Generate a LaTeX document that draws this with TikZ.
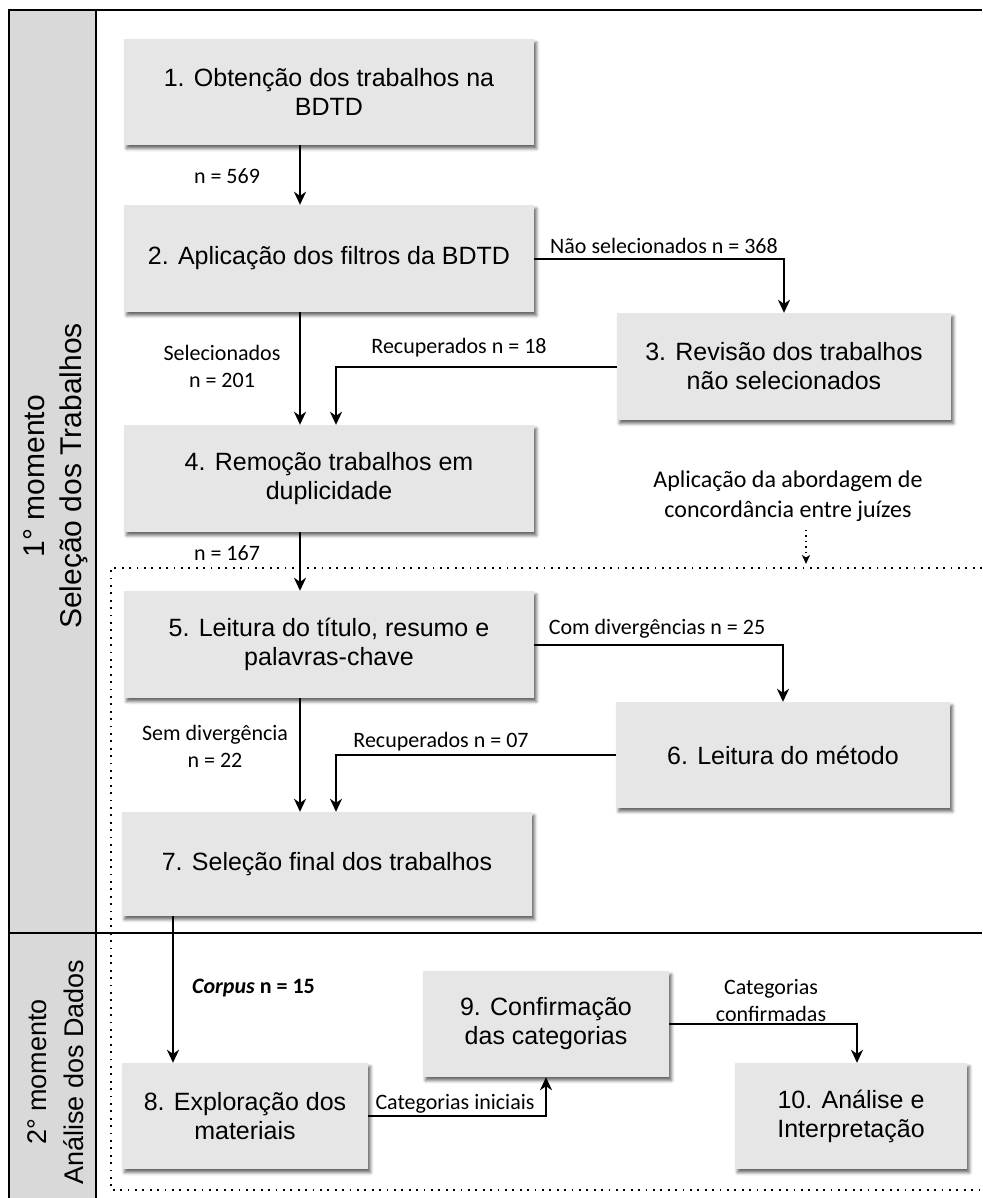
\documentclass[tikz,border=0pt]{standalone}
\usepackage{fontspec}
\setmainfont{Liberation Sans}
\newfontfamily\labfont{Carlito}
\usetikzlibrary{arrows.meta,shadows.blur,calc}
\definecolor{boxgray}{HTML}{E6E6E6}
\definecolor{sidegray}{HTML}{D9D9D9}
\begin{document}
\begin{tikzpicture}[x=1pt,y=-1pt,
  stepbox/.style={fill=boxgray, minimum height=106pt, inner sep=0pt, align=center,
    font=\fontsize{25}{29}\selectfont,
    blur shadow={shadow xshift=2.5pt, shadow yshift=-3.5pt, shadow blur radius=3pt, shadow opacity=60}},
  lab/.style={font=\labfont\fontsize{22}{27}\selectfont, align=center, inner sep=0pt},
  arr/.style={line width=2pt, -{Stealth[length=13pt,width=12pt,inset=4pt]}},
  frame/.style={line width=2pt},
  dots/.style={line width=1.8pt, dash pattern=on 1.8pt off 5.6pt},
  side/.style={rotate=90, align=center, inner sep=0pt},
]
\useasboundingbox (0,0) rectangle (982,1198);
% sidebar and frame
\fill[sidegray] (9,10) rectangle (96,1198);
\draw[frame] (982,10) -- (9,10) -- (9,1198);
\draw[frame] (96,10) -- (96,1198);
\draw[frame] (9,933) -- (982,933);
% dotted region
\draw[dots] (982,568) -- (111,568) -- (111,1190) -- (982,1190);
% sidebar texts
\node[side, font=\fontsize{30}{37}\selectfont] (s1) at (55.9,476) {1° momento\\Seleção dos Trabalhos};
\node[side, font=\fontsize{27}{37}\selectfont] (s2) at (55.9,1072) {2° momento\\Análise dos Dados};
% column coordinates
\coordinate (c1) at (300,0);
\coordinate (c2) at (336,0);
\coordinate (c3) at (173,0);
\coordinate (c4) at (857,0);
\coordinate (c5) at (806,0);
% boxes
\node[stepbox, minimum width=410pt] (b1) at (329,92) {1. Obtenção dos trabalhos na\\BDTD};
\node[stepbox, minimum width=410pt, minimum height=107pt] (b2) at (329,258.5) {2. Aplicação dos filtros da BDTD};
\node[stepbox, minimum width=334pt, minimum height=107pt] (b3) at (784,366.5) {3. Revisão dos trabalhos\\não selecionados};
\node[stepbox, minimum width=410pt, minimum height=107pt] (b4) at (329,478.5) {4. Remoção trabalhos em\\duplicidade};
\node[stepbox, minimum width=410pt, minimum height=107pt] (b5) at (329,644.5) {5. Leitura do título, resumo e\\palavras-chave};
\node[stepbox, minimum width=334pt] (b6) at (783,755) {6. Leitura do método};
\node[stepbox, minimum width=410pt, minimum height=104pt] (b7) at (327,864) {7. Seleção final dos trabalhos};
\node[stepbox, minimum width=246pt] (b8) at (245,1116) {8. Exploração dos\\materiais};
\node[stepbox, minimum width=246pt] (b9) at (546,1024) {9. Confirmação\\das categorias};
\node[stepbox, minimum width=232pt] (b10) at (851,1116) {10. Análise e\\Interpretação};
% labels
\node[lab] (l1) at (227,176) {n = 569};
\node[lab] (l2) at (664,246) {Não selecionados n = 368};
\node[lab] (l3) at (222,366) {Selecionados\\n = 201};
\node[lab] (l4) at (459,348) {Recuperados n = 18};
\node[lab] (l5) at (227,553) {n = 167};
\node[lab, font=\labfont\fontsize{24}{30}\selectfont] (note) at (788,496) {Aplicação da abordagem de\\concordância entre juízes};
\node[lab] (l6) at (657,629) {Com divergências n = 25};
\node[lab] (l7) at (215,746) {Sem divergência\\n = 22};
\node[lab] (l8) at (441,742) {Recuperados n = 07};
\node[lab, anchor=west] (l9) at (192,988) {\bfseries\itshape Corpus\upshape\ n = 15};
\node[lab] (l10) at (455,1104) {Categorias iniciais};
\node[lab] (l11) at (771,1001) {Categorias\\confirmadas};
\coordinate (dotend) at (806,564);
% connectors
\draw[arr] (b1.south -| c1) -- (b2.north -| c1);
\draw[arr] (b2.east) -| (b3.north);
\draw[arr] (b2.south -| c1) -- (b4.north -| c1);
\draw[arr] (b3.west) -| (b4.north -| c2);
\draw[arr, preaction={draw=white, line width=9pt, shorten <=8pt, shorten >=8pt}] (b4.south -| c1) -- (b5.north -| c1);
\draw[arr] (b5.east) -| (b6.north);
\draw[arr] (b5.south -| c1) -- (b7.north -| c1);
\draw[arr] (b6.west) -| (b7.north -| c2);
\draw[arr] (b7.south -| c3) -- (b8.north -| c3);
\draw[arr] (b8.east) -| (b9.south);
\draw[arr] (b9.east) -| (b10.north -| c4);
\draw[line width=1.5pt, dash pattern=on 1.5pt off 4pt, -{Stealth[length=9pt,width=8pt,inset=2.5pt]}] (note.south -| c5) ++(0,8) -- (dotend);
\end{tikzpicture}
\end{document}
